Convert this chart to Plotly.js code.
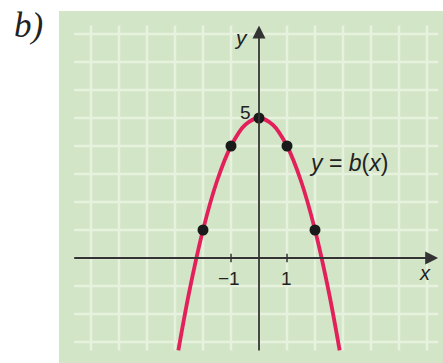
<!DOCTYPE html>
<html>
<head>
<meta charset="utf-8">
<script src="https://cdn.plot.ly/plotly-3.0.1.min.js"></script>
<style>html,body{margin:0;padding:0;background:#fff;}#chart{width:443px;height:363px;}</style>
</head>
<body>
<div id="chart"></div>
<script>
// Values
const pointX = [-2, -1, 0, 1, 2];
const pointY = [1, 4, 5, 4, 1];
const curveX = [-2.88, -2.5, -2, -1.5, -1, -0.5, 0, 0.5, 1, 1.5, 2, 2.5, 2.88];
const curveY = [-3.3, -1.25, 1, 2.75, 4, 4.75, 5, 4.75, 4, 2.75, 1, -1.25, -3.3];
const gridX = [-6, -5, -4, -3, -2, -1, 0, 1, 2, 3, 4, 5, 6];
const gridY = [-3, -2, -1, 0, 1, 2, 3, 4, 5, 6, 7, 8];
const xTicks = [-1, 1];
const xTickLabels = ['\u22121', '1'];
const yTickLabel = '5';
const curveLabel = '<i>y</i> = <i>b</i>(<i>x</i>)';

const gridColor = '#e6f2de';
const shapes = [];
shapes.push({type:'rect', xref:'paper', yref:'paper', x0:0.1332, x1:1, y0:0, y1:0.9697,
  fillcolor:'#d3e5c7', line:{width:0}, layer:'below'});
gridX.forEach(v => shapes.push({type:'line', xref:'x', yref:'y', x0:v, x1:v, y0:-3.3, y1:8.3,
  line:{color:gridColor, width:2.5}, layer:'below'}));
gridY.forEach(v => shapes.push({type:'line', xref:'x', yref:'y', x0:-6.6, x1:6.4, y0:v, y1:v,
  line:{color:gridColor, width:2.5}, layer:'below'}));
// axes lines
shapes.push({type:'line', xref:'x', yref:'y', x0:-6.6, x1:6.2, y0:0, y1:0, line:{color:'#333', width:1.8}});
shapes.push({type:'line', xref:'x', yref:'y', x0:0, x1:0, y0:-3.3, y1:8.0, line:{color:'#333', width:1.8}});
xTicks.forEach(v => shapes.push({type:'line', xref:'x', yref:'y', x0:v, x1:v, y0:-0.15, y1:0.15,
  line:{color:'#333', width:1.5}}));

const font = {family:'Liberation Sans, Arial, sans-serif', color:'#222', size:19};
const annotations = [
  // arrowheads
  {x:6.4, y:0, ax:6.0, ay:0, xref:'x', yref:'y', axref:'x', ayref:'y', text:'', showarrow:true,
   arrowhead:2, arrowsize:1.3, arrowwidth:2, arrowcolor:'#333'},
  {x:0, y:8.3, ax:0, ay:7.9, xref:'x', yref:'y', axref:'x', ayref:'y', text:'', showarrow:true,
   arrowhead:2, arrowsize:1.3, arrowwidth:2, arrowcolor:'#333'},
  {x:-0.64, y:7.86, xref:'x', yref:'y', text:'<i>y</i>', showarrow:false, font:{...font, size:21}},
  {x:5.93, y:-0.55, xref:'x', yref:'y', text:'<i>x</i>', showarrow:false, font:{...font, size:20}},
  {x:-0.5, y:5.2, xref:'x', yref:'y', text:yTickLabel, showarrow:false, font:font},
  {x:xTicks[0]-0.08, y:-0.72, xref:'x', yref:'y', text:xTickLabels[0], showarrow:false, font:font},
  {x:xTicks[1]-0.02, y:-0.72, xref:'x', yref:'y', text:xTickLabels[1], showarrow:false, font:font},
  {x:3.2, y:3.4, xref:'x', yref:'y', text:curveLabel, showarrow:false, font:{...font, size:23}},
  {x:12/443, y:1-4/363, xref:'paper', yref:'paper', xanchor:'left', yanchor:'top', text:'<i>b)</i>', showarrow:false,
   font:{family:'Liberation Serif, Times New Roman, serif', size:35, color:'#222'}}
];

const traces = [
  {x:curveX, y:curveY, mode:'lines', line:{color:'#e2215b', width:3.8, shape:'spline', smoothing:1},
   hoverinfo:'skip'},
  {x:pointX, y:pointY, mode:'markers', marker:{color:'#1a1a1a', size:11}, hoverinfo:'skip'}
];

const layout = {
  width:443, height:363, margin:{l:0, r:0, t:0, b:0},
  paper_bgcolor:'#ffffff', plot_bgcolor:'rgba(0,0,0,0)', showlegend:false,
  xaxis:{range:[-9.25, 6.571], visible:false, fixedrange:true},
  yaxis:{range:[-3.75, 9.214], visible:false, fixedrange:true},
  shapes:shapes, annotations:annotations
};
Plotly.newPlot('chart', traces, layout, {staticPlot:true, displayModeBar:false});
</script>
</body>
</html>
